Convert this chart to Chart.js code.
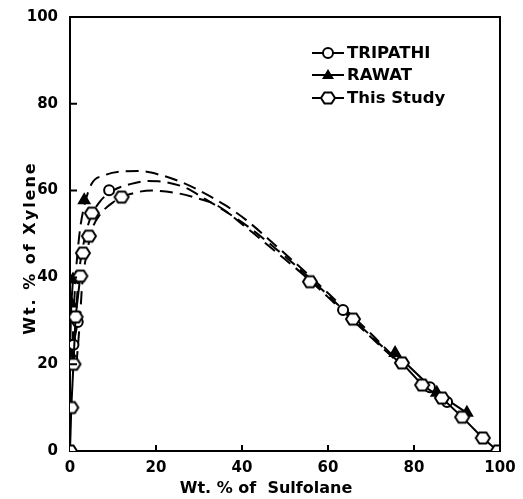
<!DOCTYPE html>
<html>
<head>
<meta charset="utf-8">
<script src="https://cdn.jsdelivr.net/npm/chart.js@4"></script>
<style>
  body { margin: 0; background: #fff; }
  canvas { display: block; }
</style>
</head>
<body>
<canvas id="chart" width="523" height="499"></canvas>
<script>
// tick labels
const xTicks = [0, 20, 40, 60, 80, 100];
const yTicks = [0, 20, 40, 60, 80, 100];

// This Study (hexagons)
const studyX = [0, 0.3, 0.8, 1.3, 2.4, 3.0, 4.4, 5.1, 12.0, 55.8, 65.8, 77.2, 81.9, 86.5, 91.2, 96.0, 99.5];
const studyY = [0, 10, 20, 30.9, 40.3, 45.6, 49.5, 54.8, 58.5, 39.0, 30.4, 20.3, 15.2, 12.2, 7.8, 3.0, 0];

// TRIPATHI (open circles)
const tripathiX = [0.8, 1.8, 9.1, 63.5, 83.7, 87.7];
const tripathiY = [24.5, 29.7, 60.1, 32.5, 14.7, 11.3];

// RAWAT (filled triangles)
const rawatX = [0, 0.3, 0.7, 3.3, 75.6, 85.3, 92.3];
const rawatY = [22.5, 34.0, 39.5, 57.8, 22.6, 13.4, 8.8];

// dashed binodal curves
const outerX = [0.5, 0.8, 1.3, 2.2, 3.2, 5, 8, 12, 16, 21, 27, 32, 36, 41, 48, 55, 62, 70, 77];
const outerY = [20, 30, 40, 50, 56, 61.5, 63.5, 64.4, 64.5, 63.6, 61.5, 59, 56.7, 53.2, 47.2, 41, 34.5, 27, 20];
const middleX = [0.8, 1.3, 2, 3, 4.5, 7, 10, 14, 18, 22, 27, 31, 36, 41, 48, 55, 62, 70, 77];
const middleY = [20, 30, 40, 47, 53, 57.5, 60, 61.5, 62.2, 62, 60.6, 58.3, 55.3, 52, 46.5, 40.5, 34, 26.5, 20];
const innerX = [1.5, 2.3, 2.8, 4, 5.3, 7, 10, 14, 19, 25, 29, 34, 41, 48, 55, 62, 70, 77];
const innerY = [20, 30, 38, 46, 51.5, 54.5, 57.3, 59.2, 60, 59.4, 58.4, 56.7, 51.5, 45.8, 40, 33.6, 26.2, 19.8];

const pts = (xs, ys) => xs.map((x, i) => ({ x: x, y: ys[i] }));

function makeHex(r) {
  const c = document.createElement('canvas');
  c.width = 2 * r + 4; c.height = 2 * r + 4;
  const g = c.getContext('2d');
  g.beginPath();
  for (let k = 0; k < 6; k++) {
    const a = k * Math.PI / 3;
    const px = c.width / 2 + r * Math.cos(a), py = c.height / 2 + r * 0.9 * Math.sin(a);
    k ? g.lineTo(px, py) : g.moveTo(px, py);
  }
  g.closePath();
  g.fillStyle = '#fff'; g.fill();
  g.lineWidth = 2; g.strokeStyle = '#000'; g.stroke();
  return c;
}
const hex = makeHex(7);

// solid tie only along the two branches near the axes
const solidSeg = ctx => {
  const a = ctx.p0.parsed, b = ctx.p1.parsed;
  const left = a.x <= 3 && b.x <= 3 && a.y <= 41 && b.y <= 41;
  const right = a.x >= 70 && b.x >= 70;
  return (left || right) ? '#000' : 'rgba(0,0,0,0)';
};

const FONT = "'DejaVu Sans', sans-serif";

const extras = {
  id: 'extras',
  afterDraw(chart) {
    const ctx = chart.ctx, a = chart.chartArea;
    const xs = chart.scales.x, ys = chart.scales.y;
    ctx.save();
    ctx.strokeStyle = '#000';
    ctx.lineWidth = 2;
    // frame top / right
    ctx.beginPath();
    ctx.moveTo(a.left, a.top); ctx.lineTo(a.right, a.top); ctx.lineTo(a.right, a.bottom);
    ctx.stroke();
    // inward ticks
    ctx.beginPath();
    xTicks.slice(1, -1).forEach(v => {
      const p = xs.getPixelForValue(v);
      ctx.moveTo(p, a.bottom); ctx.lineTo(p, a.bottom - 6);
    });
    yTicks.slice(1, -1).forEach(v => {
      const p = ys.getPixelForValue(v);
      ctx.moveTo(a.left, p); ctx.lineTo(a.left + 7, p);
    });
    ctx.stroke();

    // legend
    const items = [
      { text: 'TRIPATHI', y: 53, mark: 'circle' },
      { text: 'RAWAT', y: 75, mark: 'tri' },
      { text: 'This Study', y: 98, mark: 'hex' }
    ];
    ctx.font = 'bold 16.5px ' + FONT;
    ctx.textBaseline = 'middle';
    ctx.textAlign = 'left';
    ctx.fillStyle = '#000';
    items.forEach(it => {
      ctx.lineWidth = 2;
      ctx.beginPath(); ctx.moveTo(312, it.y); ctx.lineTo(344, it.y); ctx.stroke();
      if (it.mark === 'circle') {
        ctx.beginPath(); ctx.arc(328, it.y, 5, 0, Math.PI * 2);
        ctx.fillStyle = '#fff'; ctx.fill(); ctx.stroke();
      } else if (it.mark === 'tri') {
        ctx.beginPath();
        ctx.moveTo(328, it.y - 6); ctx.lineTo(334, it.y + 4); ctx.lineTo(322, it.y + 4);
        ctx.closePath(); ctx.fillStyle = '#000'; ctx.fill();
      } else {
        ctx.drawImage(hex, 328 - hex.width / 2, it.y - hex.height / 2);
      }
      ctx.fillStyle = '#000';
      ctx.fillText(it.text, 347, it.y + 1);
    });

    // axis titles
    ctx.font = 'bold 16px ' + FONT;
    ctx.textAlign = 'center';
    ctx.fillText('Wt. % of  Sulfolane', 266, 489);
    ctx.translate(31, 248);
    ctx.rotate(-Math.PI / 2);
    ctx.letterSpacing = '2px';
    ctx.fillText('Wt. % of Xylene', 0, 0);
    ctx.restore();
  }
};

const curveStyle = {
  showLine: true, pointRadius: 0, borderColor: '#000', borderWidth: 2,
  borderDash: [13, 7], cubicInterpolationMode: 'monotone', fill: false
};

new Chart(document.getElementById('chart'), {
  type: 'scatter',
  data: {
    datasets: [
      {
        label: 'This Study', data: pts(studyX, studyY), showLine: true,
        pointStyle: hex, pointRadius: 7, borderColor: '#000', borderWidth: 2,
        segment: { borderColor: solidSeg }
      },
      {
        label: 'TRIPATHI', data: pts(tripathiX, tripathiY), showLine: true,
        pointStyle: 'circle', pointRadius: 5, pointBackgroundColor: '#fff',
        pointBorderColor: '#000', pointBorderWidth: 2, borderColor: '#000', borderWidth: 2,
        segment: { borderColor: solidSeg }
      },
      {
        label: 'RAWAT', data: pts(rawatX, rawatY), showLine: true,
        pointStyle: 'triangle', pointRadius: 6, pointBackgroundColor: '#000',
        pointBorderColor: '#000', borderColor: '#000', borderWidth: 2,
        segment: { borderColor: solidSeg }
      },
      Object.assign({ label: 'outer', data: pts(outerX, outerY) }, curveStyle),
      Object.assign({ label: 'middle', data: pts(middleX, middleY) }, curveStyle),
      Object.assign({ label: 'inner', data: pts(innerX, innerY) }, curveStyle)
    ]
  },
  options: {
    responsive: false,
    animation: false,
    layout: { padding: { top: 17, right: 23, left: 0, bottom: 0 } },
    plugins: { legend: { display: false }, tooltip: { enabled: false } },
    scales: {
      x: {
        min: 0, max: 100,
        afterBuildTicks: s => { s.ticks = xTicks.map(v => ({ value: v })); },
        afterFit: s => { s.height = 48; s.paddingLeft = 0; s.paddingRight = 0; },
        grid: { display: false, drawTicks: false },
        border: { display: true, color: '#000', width: 2 },
        ticks: { color: '#000', padding: 8, maxRotation: 0, font: { family: FONT, weight: 'bold', size: 15 } }
      },
      y: {
        min: 0, max: 100,
        afterBuildTicks: s => { s.ticks = yTicks.map(v => ({ value: v })); },
        afterFit: s => { s.width = 70; s.paddingTop = 0; s.paddingBottom = 0; },
        grid: { display: false, drawTicks: false },
        border: { display: true, color: '#000', width: 2 },
        ticks: { color: '#000', padding: 12, font: { family: FONT, weight: 'bold', size: 15 } }
      }
    }
  },
  plugins: [extras]
});
</script>
</body>
</html>
